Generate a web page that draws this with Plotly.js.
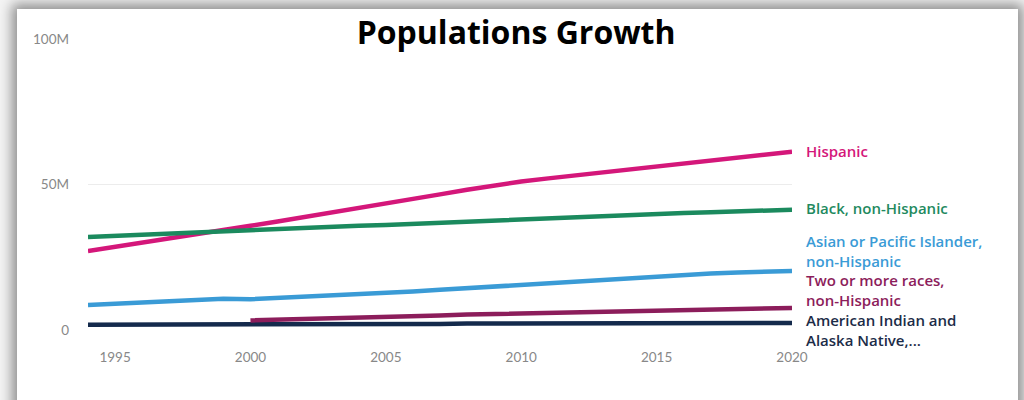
<!DOCTYPE html>
<html>
<head>
<meta charset="utf-8">
<script src="https://cdn.plot.ly/plotly-3.0.1.min.js"></script>
<style>
  html, body { margin: 0; padding: 0; background: #ffffff; }
  #wrap { position: relative; width: 1024px; height: 400px; overflow: hidden; background: #f4f4f4; }
  #card { position: absolute; left: 17px; top: 9px; width: 1001px; height: 420px; background: #fff;
          box-shadow: 0 0 12px 5px rgba(0,0,0,0.42); }
  #chart { position: absolute; left: 0; top: 0; width: 1024px; height: 400px; }
</style>
</head>
<body>
<div id="wrap">
  <div id="card"></div>
  <div id="chart"></div>
</div>
<script>
const years = [1994,1995,1996,1997,1998,1999,2000,2001,2002,2003,2004,2005,2006,2007,2008,2009,2010,2011,2012,2013,2014,2015,2016,2017,2018,2019,2020];

const hispanic = [27.1,28.5,29.9,31.3,32.8,34.3,35.8,37.3,38.8,40.3,41.8,43.4,45.0,46.6,48.2,49.7,51.0,52.1,53.1,54.1,55.1,56.1,57.2,58.3,59.4,60.4,61.3];
const black = [32.0,32.4,32.8,33.2,33.6,34.1,34.4,34.8,35.1,35.4,35.8,36.1,36.5,36.9,37.2,37.6,38.0,38.4,38.7,39.1,39.5,39.9,40.2,40.5,40.8,41.1,41.3];
const asian = [8.6,9.0,9.4,9.8,10.2,10.7,10.6,11.0,11.4,11.8,12.2,12.7,13.2,13.8,14.4,15.0,15.5,16.1,16.7,17.3,17.9,18.5,19.0,19.4,19.8,20.1,20.3];
const twoOrMore = [null,null,null,null,null,null,3.3,3.5,3.8,4.0,4.3,4.5,4.8,5.0,5.3,5.5,5.8,6.0,6.2,6.4,6.6,6.8,7.0,7.2,7.3,7.5,7.6];
const aian = [1.8,1.8,1.8,1.9,1.9,1.9,2.0,2.0,2.0,2.0,2.1,2.1,2.1,2.1,2.2,2.2,2.2,2.2,2.3,2.3,2.3,2.3,2.3,2.4,2.4,2.4,2.4];

const seriesNames = ["Hispanic","Black, non-Hispanic","Asian or Pacific Islander,<br>non-Hispanic","American Indian and<br>Alaska Native,...","Two or more races,<br>non-Hispanic"];
const seriesValues = [hispanic, black, asian, aian, twoOrMore];
const seriesColors = ["#d4177a","#1b8a5e","#3a9bd6","#142a4c","#8c1d5b"];
const labelColors = ["#d4177a","#1f8a60","#3a9bd6","#1c2c48","#8c1d5b"];
const labelY = [0.615, 0.419, 0.272, 0.0, 0.138];

const yTickVals = [0, 50, 100];
const yTickText = ["0", "50M", "100M"];
const xTickVals = [1995, 2000, 2005, 2010, 2015, 2020];

const traces = seriesValues.map((vals, i) => ({
  x: years,
  y: vals,
  type: "scatter",
  mode: "lines",
  name: seriesNames[i].replace("<br>", " "),
  line: { color: seriesColors[i], width: 4.5 },
  connectgaps: false
}));

const annotations = seriesNames.map((n, i) => ({
  text: n,
  xref: "paper", yref: "paper",
  x: 1, y: labelY[i],
  xshift: 13,
  xanchor: "left", yanchor: "middle", align: "left",
  borderpad: 0,
  showarrow: false,
  font: { family: "Open Sans, sans-serif", size: 15, weight: 600, color: labelColors[i] }
}));

const layout = {
  width: 1024, height: 400,
  margin: { l: 88, r: 232, t: 39, b: 70, pad: 0 },
  paper_bgcolor: "rgba(0,0,0,0)",
  plot_bgcolor: "rgba(0,0,0,0)",
  showlegend: false,
  title: {
    text: "<b>Populations Growth</b>",
    x: 0.504, xanchor: "center",
    y: 0.918, yanchor: "middle",
    font: { family: "Open Sans, sans-serif", size: 32, color: "#000" }
  },
  xaxis: {
    range: [1994, 2020],
    tickvals: xTickVals,
    ticktext: xTickVals.map(String),
    showgrid: false, zeroline: false, showline: false,
    ticks: "", ticklabelstandoff: 17,
    tickfont: { family: "Lato, sans-serif", size: 13.5, color: "#888" },
    fixedrange: true
  },
  yaxis: {
    range: [0, 100],
    tickvals: yTickVals,
    ticktext: yTickText,
    showgrid: true, gridcolor: "#ececec", gridwidth: 1.5,
    zeroline: false, showline: false,
    ticks: "", ticklabelstandoff: 18,
    tickfont: { family: "Lato, sans-serif", size: 13.5, color: "#888" },
    fixedrange: true
  },
  annotations: annotations
};

Plotly.newPlot("chart", traces, layout, { displayModeBar: false, staticPlot: true });
</script>
</body>
</html>
